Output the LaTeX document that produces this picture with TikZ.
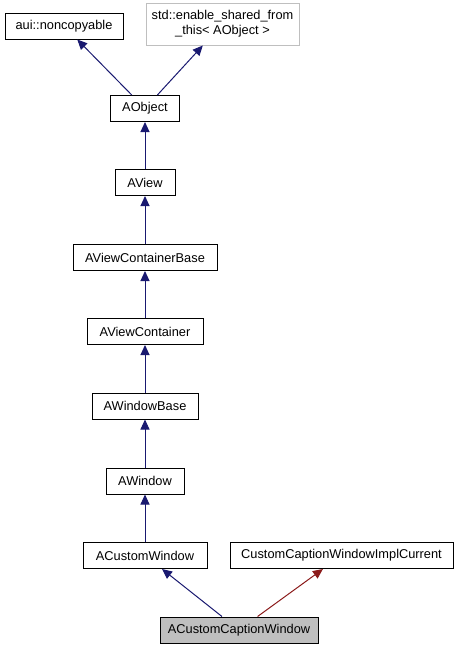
\documentclass[tikz,border=0pt]{standalone}
\usepackage{fontspec}
\setmainfont{Liberation Sans}
\usepackage{tikz}
\usetikzlibrary{arrows.meta}
\usepackage{xcolor}
\definecolor{ColA}{RGB}{25,25,112}
\definecolor{ColB}{RGB}{139,26,26}
\definecolor{ColC}{RGB}{191,191,191}
\tikzstyle{NodeClass}=[rectangle,draw=black,line width=1pt,inner sep=0pt,minimum height=26pt,
font=\fontsize{12.8}{15}\selectfont,align=center]
\tikzstyle{NodeExtern}=[NodeClass,draw=ColC]
\tikzstyle{NodeSelf}=[NodeClass,fill=ColC]
\tikzstyle{EdgePublic}=[ColA,line width=1pt,-{Triangle[length=10pt,width=9pt]}]
\tikzstyle{EdgePrivate}=[EdgePublic,ColB]

\begin{document}
\begin{tikzpicture}[x=1pt,y=-1pt]
        \useasboundingbox(0,0)rectangle(460,649);
        \node[NodeClass,minimum width=118pt](nc)at(64,26){aui::noncopyable};
        \node[NodeExtern,minimum width=153pt,minimum height=42pt](sh)at(222.5,24){std::enable\_shared\_from\\\_this< AObject >};
        \node[NodeClass,minimum width=69pt](obj)at(145,108.5){AObject};
        \node[NodeClass,minimum width=60pt](view)at(145,182.5){AView};
        \node[NodeClass,minimum width=144pt](vcb)at(145,257.5){AViewContainerBase};
        \node[NodeClass,minimum width=116pt](vc)at(145,331.5){AViewContainer};
        \node[NodeClass,minimum width=106pt](wb)at(145,406){AWindowBase};
        \node[NodeClass,minimum width=78pt](win)at(145,481){AWindow};
        \node[NodeClass,minimum width=124pt](cw)at(145,555.5){ACustomWindow};
        \node[NodeClass,minimum width=223pt](cur)at(341.5,555.5){CustomCaptionWindowImplCurrent};
        \node[NodeSelf,minimum width=158pt](ccw)at(239,630){ACustomCaptionWindow};
        \draw[EdgePublic](obj)--(nc);
        \draw[EdgePublic](obj)--(sh);
        \draw[EdgePublic](view)--(obj);
        \draw[EdgePublic](vcb)--(view);
        \draw[EdgePublic](vc)--(vcb);
        \draw[EdgePublic](wb)--(vc);
        \draw[EdgePublic](win)--(wb);
        \draw[EdgePublic](cw)--(win);
        \draw[EdgePublic](ccw)--(cw);
        \draw[EdgePrivate](ccw)--(cur);
    \end{tikzpicture}
\end{document}
